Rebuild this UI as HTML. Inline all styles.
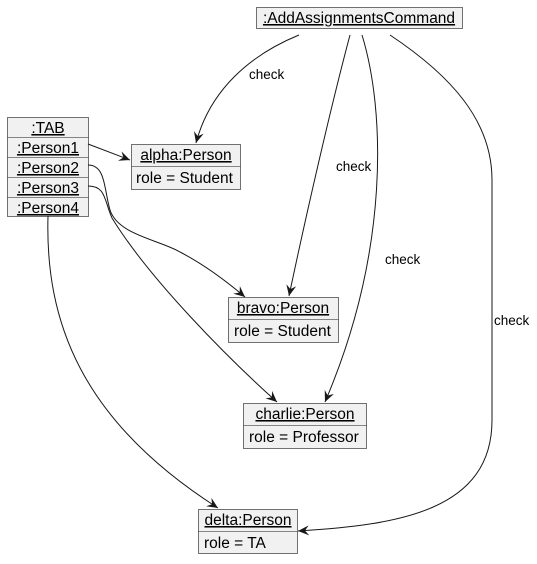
<!DOCTYPE html>
<html><head><style>
body{margin:0;background:#fff;}
svg text{font-family:"Liberation Sans",sans-serif;font-size:15.5px;fill:#000;}
svg text.l{font-size:13.5px;}
</style></head><body>
<svg width="537" height="559" viewBox="0 0 537 559" xmlns="http://www.w3.org/2000/svg">
<defs>
<marker id="a" viewBox="0 0 12 10" refX="11" refY="5" markerWidth="12" markerHeight="10" markerUnits="userSpaceOnUse" orient="auto">
<path d="M0,0 L11,5 L0,10 L4,5 Z" fill="#181818"/>
</marker>
</defs>
<g fill="#f1f1f1" stroke="#181818" stroke-width="0.6">
<rect x="256.5" y="7.5" width="206" height="21"/>
<rect x="7.5" y="117.5" width="81" height="99"/>
<rect x="131.5" y="144.5" width="109" height="45"/>
<rect x="228.5" y="297.5" width="110" height="45"/>
<rect x="243.5" y="403.5" width="123" height="45"/>
<rect x="198.5" y="509.5" width="99" height="44"/>
</g>
<g stroke="#181818" stroke-width="0.6">
<line x1="7.5" y1="137.5" x2="88.5" y2="137.5"/>
<line x1="7.5" y1="157.5" x2="88.5" y2="157.5"/>
<line x1="7.5" y1="177.5" x2="88.5" y2="177.5"/>
<line x1="7.5" y1="197.5" x2="88.5" y2="197.5"/>
<line x1="131.5" y1="166.5" x2="240.5" y2="166.5"/>
<line x1="228.5" y1="319.5" x2="338.5" y2="319.5"/>
<line x1="243.5" y1="425.5" x2="366.5" y2="425.5"/>
<line x1="198.5" y1="531.5" x2="297.5" y2="531.5"/>
</g>
<g text-anchor="middle" text-decoration="underline">
<text x="359" y="23">:AddAssignmentsCommand</text>
<text x="48" y="133">:TAB</text>
<text x="48" y="153">:Person1</text>
<text x="48" y="173">:Person2</text>
<text x="48" y="193">:Person3</text>
<text x="48" y="213">:Person4</text>
<text x="186" y="160">alpha:Person</text>
<text x="283" y="313">bravo:Person</text>
<text x="305" y="419">charlie:Person</text>
<text x="248" y="525">delta:Person</text>
</g>
<g>
<text x="136" y="183">role = Student</text>
<text x="234" y="336">role = Student</text>
<text x="249" y="442">role = Professor</text>
<text x="204" y="548">role = TA</text>
<text class="l" x="249" y="79">check</text>
<text class="l" x="336" y="171">check</text>
<text class="l" x="385" y="264">check</text>
<text class="l" x="494" y="325">check</text>
</g>
<g fill="none" stroke="#181818" stroke-width="1" marker-end="url(#a)">
<path d="M299,35 C250,55 210,90 196,143"/>
<path d="M350,35 C330,110 305,220 289,296"/>
<path d="M362,35 C385,110 390,250 325,402"/>
<path d="M390,35 C450,75 492,120 492,180 L492,420 C492,510 400,525 298,531"/>
<path d="M88,144 L130,160"/>
<path d="M88,165 C106,165 104,190 110,210 C118,235 160,240 180,252 C205,265 225,280 245,297"/>
<path d="M88,186 C106,186 104,200 112,218 C150,280 230,360 277,402"/>
<path d="M48,216 C45,320 80,420 218,508"/>
</g>
</svg>
</body></html>
